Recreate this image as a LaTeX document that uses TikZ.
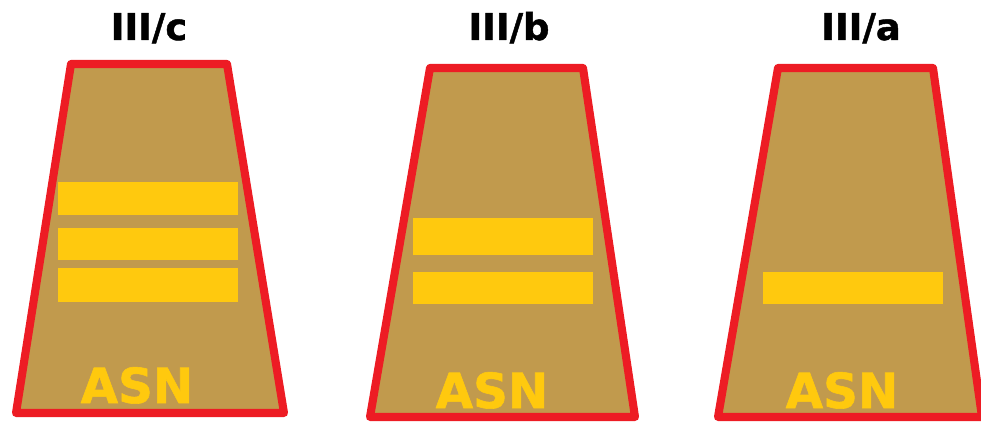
\documentclass[tikz,border=0pt]{standalone}
\usepackage{fontspec}
\setmainfont{DejaVu Sans}
\newfontfamily\heavyfont[FakeBold=1.2]{DejaVu Sans Bold}
\definecolor{trimred}{RGB}{237,28,36}
\definecolor{khaki}{RGB}{193,154,77}
\definecolor{stripegold}{RGB}{255,201,14}
\tikzset{
	epaulet/.style={fill=khaki, draw=trimred, line width=4.6pt, line join=round},
	stripe/.style={fill=stripegold},
	ranktitle/.style={anchor=base, inner sep=0pt, font=\fontsize{21}{21}\heavyfont},
	asnmark/.style={anchor=base, inner sep=0pt, text=stripegold, font=\fontsize{27.5}{27.5}\heavyfont}}

\begin{document}
\begin{tikzpicture}[x=0.02cm, y=-0.02cm]
      \useasboundingbox (0,0) rectangle (981,422);

      % III/c
      \draw [epaulet] (71,64) -- (227,64) -- (284,413) -- (16,413) -- cycle;
      \fill [stripe] (58,182) rectangle (238,215);
      \fill [stripe] (58,228) rectangle (238,260);
      \fill [stripe] (58,268) rectangle (238,302);
      \node [ranktitle] (Tc) at (149,40) {III/c};
      \node [asnmark] (Ac) at (137,403) {ASN};

      % III/b
      \draw [epaulet] (430,68) -- (583,68) -- (635,417) -- (370,417) -- cycle;
      \fill [stripe] (413,218) rectangle (593,255);
      \fill [stripe] (413,272) rectangle (593,304);
      \node [ranktitle] (Tb) at (509,40) {III/b};
      \node [asnmark] (Ab) at (492,408) {ASN};

      % III/a
      \draw [epaulet] (778,68) -- (933,68) -- (982,417) -- (718,417) -- cycle;
      \fill [stripe] (763,272) rectangle (943,304);
      \node [ranktitle] (Ta) at (861,40) {III/a};
      \node [asnmark] (Aa) at (842,408) {ASN};
  \end{tikzpicture}
\end{document}
